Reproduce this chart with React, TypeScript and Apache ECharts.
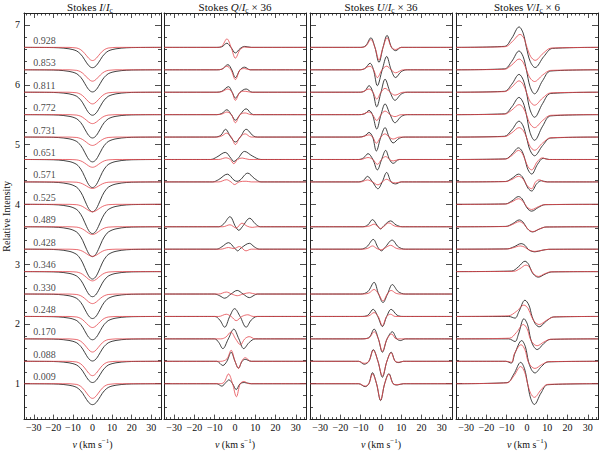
import React, { useEffect, useRef } from 'react';
import * as echarts from 'echarts';

type Pts = number[][] | null;

// phases, bottom (index 0) to top
const phases = ['0.009', '0.088', '0.170', '0.248', '0.330', '0.346', '0.428', '0.489', '0.525', '0.571', '0.651', '0.731', '0.772', '0.811', '0.853', '0.928'];
const baselines = [1.0, 1.375, 1.75, 2.125, 2.5, 2.875, 3.25, 3.625, 4.0, 4.375, 4.75, 5.125, 5.5, 5.875, 6.25, 6.625];

// Stokes I: line depth per phase and normalised profile shape [v, fraction of depth]
const iDepthBlack = [0.35, 0.355, 0.37, 0.39, 0.41, 0.42, 0.5, 0.5, 0.49, 0.5, 0.47, 0.415, 0.39, 0.385, 0.37, 0.34];
const iDepthRed = [0.245, 0.24, 0.22, 0.185, 0.16, 0.155, 0.12, 0.13, 0.125, 0.11, 0.13, 0.14, 0.15, 0.195, 0.19, 0.22];
const iShapeBlack = [[-20, 0.01], [-15, 0.035], [-12, 0.07], [-10, 0.11], [-8, 0.18], [-7, 0.25], [-6, 0.34], [-5, 0.46], [-4, 0.61], [-3, 0.76], [-2, 0.89], [-1, 0.97], [0, 1], [1, 0.97], [2, 0.89], [3, 0.76], [4, 0.61], [5, 0.46], [6, 0.34], [7, 0.25], [8, 0.18], [10, 0.11], [12, 0.07], [15, 0.035], [20, 0.01]];
const iShapeRed = [[-12, 0], [-10, 0.02], [-8, 0.05], [-7, 0.1], [-6, 0.18], [-5, 0.3], [-4, 0.46], [-3, 0.64], [-2, 0.82], [-1, 0.95], [0, 1], [1, 0.95], [2, 0.82], [3, 0.64], [4, 0.46], [5, 0.3], [6, 0.18], [7, 0.1], [8, 0.05], [10, 0.02], [12, 0]];

// Stokes Q/Ic x 36 : [v, offset from baseline]
const qBlack: Pts[] = [
  [[-9, 0], [-6.5, -0.04], [-4.5, 0.02], [-3, 0.065], [-1.2, 0], [0.6, -0.098], [2.5, 0], [4.6, 0.02], [8, 0]],
  [[-9, 0], [-6, -0.07], [-4, 0], [-1.9, 0.15], [0, 0], [1.7, -0.114], [3.5, 0], [5, 0.033], [8, 0]],
  [[-10, 0], [-8, -0.06], [-6, -0.163], [-3.3, 0], [-0.6, 0.163], [1.9, 0], [4.3, -0.163], [7, -0.06], [10, 0]],
  [[-10, 0], [-7.5, -0.06], [-5.1, -0.18], [-2.6, 0], [-0.2, 0.13], [2.5, 0], [5.5, -0.18], [8, -0.06], [11, 0]],
  [[-10, 0], [-7.5, -0.03], [-5.1, -0.07], [-2, 0], [1.1, 0.06], [4, 0], [7.1, -0.06], [9.5, -0.02], [11, 0]],
  null,
  [[-9, 0], [-6.5, 0.04], [-3.2, 0.109], [0, 0.01], [1.3, -0.028], [3, 0.02], [7.1, 0.098], [9.5, 0.04], [12, 0]],
  [[-8, 0], [-5.5, 0.05], [-2.5, 0.168], [0.3, 0], [1.9, -0.06], [3.6, 0], [7.3, 0.142], [10, 0.05], [12.5, 0]],
  null,
  [[-11, 0], [-8, 0.04], [-3.8, 0.13], [-0.5, 0.03], [1, 0.01], [2.5, 0.03], [6.3, 0.147], [9.5, 0.06], [12.8, 0]],
  [[-12, 0], [-9, 0.04], [-4.8, 0.119], [-2, 0.02], [-0.6, -0.033], [1.5, 0.02], [4.7, 0.135], [8.5, 0.06], [12.8, 0]],
  [[-10, 0], [-7, 0.03], [-4.7, 0.13], [-2.1, 0], [0.2, -0.082], [2.6, 0], [5.5, 0.13], [9, 0.02], [11, 0]],
  [[-9, 0], [-6.5, 0.02], [-4, 0.082], [-1.8, 0], [0.2, -0.093], [2.5, 0], [5.5, 0.098], [9, 0]],
  [[-9, 0], [-6.5, 0.015], [-3.2, 0.093], [-1.4, 0], [0.2, -0.098], [2.5, 0], [5.5, 0.054], [8.5, 0]],
  [[-9, 0], [-6.5, 0.01], [-3.5, 0.086], [-1.6, 0], [0.2, -0.13], [2.5, 0], [4.7, 0.044], [7.5, 0]],
  [[-9, 0], [-6.5, 0.01], [-4, 0.07], [-2, 0], [0.2, -0.093], [2.5, -0.02], [4.7, 0.016], [8, 0]],
];
const qRed: Pts[] = [
  [[-8, 0], [-5.5, 0.02], [-3.2, 0.163], [-1.2, 0], [0.7, -0.217], [2.6, 0], [4.4, 0.037], [7, 0]],
  [[-7, 0], [-4, 0.04], [-1.9, 0.184], [0, 0], [1.7, -0.12], [3.3, 0], [5, 0.06], [8, 0]],
  [[-7, 0], [-4.5, 0.03], [-2, 0.114], [0.3, 0], [2.7, -0.098], [4.8, 0], [7, 0.037], [10, 0]],
  [[-8, 0], [-4.3, 0.037], [-1.9, 0], [0.6, -0.07], [3.4, 0], [6.3, 0.028], [9, 0]],
  [[-8, 0], [-4.3, 0.033], [-1.6, 0], [1.1, -0.028], [4, 0], [7.1, 0.021], [10, 0]],
  null,
  [[-7, 0], [-3.2, 0.028], [-0.6, 0.01], [2.2, 0.044], [5.4, -0.028], [8, 0]],
  [[-6, 0], [-2.5, 0.033], [0.6, -0.021], [3.4, 0.06], [6, 0.01], [8.5, -0.01], [11, 0]],
  null,
  [[-8, 0], [-4.2, 0.037], [-2, 0], [-0.2, -0.044], [2, 0], [5.5, 0.011], [8, 0]],
  [[-8, 0], [-4.5, 0.028], [-2.3, 0], [-0.6, -0.07], [1.3, 0], [3.5, 0.025], [7, 0]],
  [[-9, 0], [-6.5, 0.02], [-4.2, 0.065], [-1.8, 0], [0.2, -0.125], [2.5, 0], [5, 0.054], [8, 0]],
  [[-9, 0], [-6.5, 0.01], [-4, 0.044], [-1.8, 0], [0.2, -0.135], [2.5, 0], [5, 0.028], [8, 0]],
  [[-9, 0], [-6.5, 0.01], [-3.5, 0.054], [-1.5, 0], [0.2, -0.135], [2.5, 0], [5, 0.016], [8, 0]],
  [[-9, 0], [-6.5, 0.01], [-4, 0.06], [-2, 0], [0.2, -0.163], [2.5, 0], [4.7, 0.02], [7.5, 0]],
  [[-9, 0], [-6.5, 0.02], [-4, 0.142], [-1.9, 0], [0.2, -0.18], [2.5, -0.04], [4.7, 0.005], [8, 0]],
];

// Stokes U/Ic x 36
const uBlack: Pts[] = [
  [[-11, 0], [-7.8, -0.049], [-6, 0], [-4.2, 0.184], [-2.2, 0], [-0.2, -0.282], [1.8, 0], [3.9, 0.168], [6, 0], [8, -0.021], [11, 0]],
  [[-11, 0], [-8.3, -0.049], [-6, 0], [-3.8, 0.195], [-1.5, 0], [0.7, -0.266], [2.9, 0], [5, 0.152], [7, 0], [8.8, -0.021], [11, 0]],
  [[-10, 0], [-6, 0.02], [-3.4, 0.163], [-1.3, 0], [0.7, -0.223], [3, 0], [5.6, 0.119], [7.8, 0], [9.6, -0.028], [12, 0]],
  [[-10, 0], [-6.5, 0.02], [-3.9, 0.119], [-1.6, 0], [0.7, -0.168], [2.8, 0], [5, 0.119], [8, 0.02], [11, 0]],
  [[-10, 0], [-6.5, 0.04], [-3.4, 0.195], [-1.2, 0], [1, -0.142], [3.2, 0], [5.6, 0.158], [8.5, 0.04], [12, 0]],
  null,
  [[-10, 0], [-7, 0.04], [-3.8, 0.163], [-1.5, 0.03], [0.2, -0.028], [2, 0.03], [5.5, 0.152], [8.5, 0.04], [12, 0]],
  [[-9, 0], [-6.5, 0.03], [-4.2, 0.119], [-1.8, 0.02], [-0.2, -0.037], [1.5, 0.02], [4.7, 0.098], [7.5, 0.03], [10.5, 0]],
  null,
  [[-11, 0], [-8.5, 0.03], [-6.7, 0.093], [-4.2, 0], [-1.5, -0.114], [0.6, 0], [2.8, 0.158], [5, 0], [7.2, -0.033], [10, 0]],
  [[-11, 0], [-8.5, 0.03], [-6.4, 0.098], [-4, 0], [-1.8, -0.174], [0.3, 0], [2.3, 0.152], [4.2, 0], [6, -0.065], [9, 0]],
  [[-11, 0], [-8, 0.02], [-5.9, 0.077], [-4.1, 0], [-2.3, -0.233], [-0.1, 0], [2, 0.158], [4, 0], [6, -0.098], [9, -0.02], [12, 0]],
  [[-11, 0], [-8, 0.015], [-5.9, 0.07], [-4.2, 0], [-2.1, -0.24], [0, 0], [2, 0.179], [4.5, 0], [6.9, -0.135], [10, -0.03], [13, 0]],
  [[-11, 0], [-8, 0.02], [-5.9, 0.11], [-4, 0], [-2.1, -0.244], [0, 0], [2, 0.217], [4.5, 0], [6.9, -0.135], [10, -0.03], [13, 0]],
  [[-11, 0], [-8, 0.02], [-5.4, 0.11], [-3.7, 0], [-1.8, -0.265], [0.6, 0], [2.8, 0.223], [5, 0], [7.2, -0.13], [10, -0.03], [13, 0]],
  [[-10, 0], [-7.5, 0.03], [-5, 0.16], [-3, 0], [-1, -0.25], [1, 0], [3, 0.2], [5.2, 0], [7.2, -0.055], [10, 0]],
];
const uRed: Pts[] = [
  [[-11, 0], [-7.8, -0.04], [-6, 0], [-4.2, 0.163], [-2.2, 0], [-0.2, -0.272], [1.8, 0], [3.9, 0.158], [6, 0], [8, -0.016], [11, 0]],
  [[-11, 0], [-8.3, -0.033], [-6, 0], [-3.8, 0.184], [-1.5, 0], [0.7, -0.244], [2.9, 0], [5, 0.142], [7, 0], [9, -0.015], [11, 0]],
  [[-10, 0], [-6, 0.015], [-3.4, 0.119], [-1.3, 0], [0.7, -0.207], [3, 0], [5.3, 0.081], [7.5, 0], [10, 0]],
  [[-9, 0], [-6, 0.01], [-3.4, 0.065], [-1.4, 0], [0.7, -0.152], [2.8, 0], [4.7, 0.037], [7, 0]],
  [[-9, 0], [-6, 0.015], [-3.4, 0.077], [-1.2, 0], [1, -0.114], [3.1, 0], [5, 0.06], [7.5, 0.01], [10, 0]],
  null,
  [[-9, 0], [-6.5, 0.015], [-4.2, 0.054], [-2, 0.01], [0, -0.011], [2, 0.02], [4.7, 0.065], [7.5, 0.015], [10, 0]],
  [[-8, 0], [-5.5, 0.015], [-3.4, 0.044], [-1.5, 0], [-0.2, -0.028], [1.2, 0], [3.9, 0.065], [6.5, 0.015], [9, 0]],
  null,
  [[-10, 0], [-6.7, 0.033], [-4.2, 0], [-1.5, -0.049], [0.6, 0], [2.8, 0.044], [5, 0], [7.2, -0.016], [10, 0]],
  [[-10, 0], [-6.4, 0.033], [-4, 0], [-1.8, -0.081], [0.3, 0], [2.3, 0.049], [4.2, 0], [6, -0.024], [9, 0]],
  [[-10, 0], [-5.9, 0.037], [-4.1, 0], [-2.3, -0.103], [-0.1, 0], [2, 0.054], [4, 0], [6, -0.033], [9, 0]],
  [[-10, 0], [-5.9, 0.044], [-4.2, 0], [-2.1, -0.098], [0, 0], [2, 0.06], [4.5, 0], [6.9, -0.033], [10, 0]],
  [[-10, 0], [-5.9, 0.054], [-4, 0], [-2.1, -0.114], [0, 0], [2, 0.065], [4.5, 0], [6.9, -0.049], [11, 0]],
  [[-10, 0], [-5.4, 0.06], [-3.7, 0], [-1.8, -0.13], [0.5, 0], [2.8, 0.06], [5, 0], [7.2, -0.05], [11, 0]],
  [[-10, 0], [-7.5, 0.02], [-5, 0.13], [-3, 0], [-1, -0.21], [1, 0], [3, 0.16], [5.2, 0], [7.2, -0.035], [10, 0]],
];

// Stokes V/Ic x 6
const vBlack: Pts[] = [
  [[-9.9, 0.018], [-6.5, 0.161], [-3.1, 0.358], [-1.23, 0.25], [0.3, 0], [1.79, -0.243], [3.6, -0.347], [6.9, -0.156], [10.2, -0.017]],
  [[-10.5, 0], [-7.8, -0.03], [-5.9, 0.14], [-2.6, 0.347], [-0.8, 0.243], [0.7, 0], [2.14, -0.137], [3.9, -0.195], [7.1, -0.088], [10.3, -0.01]],
  [[-9, 0], [-5.9, -0.044], [-4.2, 0.08], [-1.5, 0.337], [0.3, 0.236], [1.8, 0], [3.24, -0.125], [5, -0.179], [8.2, -0.08], [11.4, -0.009]],
  [[-9, 0], [-5.9, -0.028], [-4, 0.08], [-1, 0.272], [0.93, 0.19], [2.5, 0], [4.08, -0.122], [6, -0.174], [9.5, -0.078], [13, -0.009]],
  null,
  [[-7.6, 0.009], [-4.3, 0.078], [-1, 0.174], [0.8, 0.122], [2.3, 0], [3.8, -0.065], [5.6, -0.093], [8.9, -0.042], [12.2, -0.005]],
  [[-9.7, 0.005], [-6.3, 0.042], [-2.9, 0.093], [-1, 0.065], [0.5, 0], [2, -0.031], [3.9, -0.044], [7.3, -0.02], [10.7, -0.002]],
  [[-10.4, 0.006], [-7.1, 0.051], [-3.8, 0.114], [-2, 0.08], [-0.5, 0], [1, -0.06], [2.8, -0.086], [6.1, -0.039], [9.4, -0.004]],
  [[-10.6, 0.007], [-7.4, 0.059], [-4.2, 0.13], [-2.4, 0.091], [-1, 0], [0.5, -0.08], [2.3, -0.114], [5.6, -0.051], [8.9, -0.006]],
  [[-10.6, 0.007], [-7.4, 0.059], [-4.2, 0.13], [-2.4, 0.091], [-1, 0], [0.5, -0.106], [2.3, -0.152], [4.8, -0.03], [7, 0.02], [10, 0]],
  [[-10.6, 0.01], [-7.4, 0.088], [-4.2, 0.195], [-2.4, 0.137], [-1, 0], [0.5, -0.171], [2.3, -0.244], [5.2, -0.08], [8, 0.02], [11, 0]],
  [[-11.1, 0.013], [-7.5, 0.12], [-3.9, 0.266], [-1.9, 0.186], [-0.3, 0], [1.5, -0.219], [3.7, -0.313], [7.7, -0.141], [11.7, -0.016]],
  [[-11.1, 0.014], [-7.5, 0.13], [-3.9, 0.288], [-1.9, 0.202], [-0.3, 0], [1.5, -0.3], [3.7, -0.429], [7.7, -0.193], [11.7, -0.021]],
  [[-11.1, 0.015], [-7.5, 0.134], [-3.9, 0.298], [-1.9, 0.209], [-0.3, 0], [1.5, -0.293], [3.7, -0.419], [7.7, -0.189], [11.7, -0.021]],
  [[-11.1, 0.016], [-7.5, 0.142], [-3.9, 0.315], [-1.9, 0.22], [-0.3, 0], [1.5, -0.281], [3.7, -0.402], [7.7, -0.181], [11.7, -0.02]],
  [[-11.1, 0.017], [-7.5, 0.154], [-3.9, 0.342], [-1.9, 0.239], [-0.3, 0], [1.6, -0.236], [4, -0.337], [8.3, -0.152], [12.6, -0.017]],
];
const vRed: Pts[] = [
  [[-9.9, 0.014], [-6.5, 0.13], [-3.1, 0.288], [-1.23, 0.2], [0.3, 0], [1.79, -0.16], [3.6, -0.228], [6.9, -0.103], [10.2, -0.011]],
  [[-10.5, 0], [-7.5, -0.015], [-6.3, 0.12], [-2.9, 0.277], [-1.03, 0.194], [0.5, 0], [2.03, -0.083], [3.9, -0.119], [7.3, -0.054], [10.7, -0.006]],
  [[-8.6, 0.012], [-5.2, 0.108], [-1.8, 0.24], [0.07, 0.168], [1.6, 0], [3.13, -0.08], [5, -0.114], [8.4, -0.051], [11.8, -0.006]],
  [[-9.3, 0.01], [-5.2, 0.085], [-1.5, 0.19], [0.53, 0.133], [2.2, 0], [3.9, -0.095], [6, -0.135], [9.8, -0.061], [13.6, -0.007]],
  null,
  [[-6.5, 0.005], [-3.5, 0.049], [-0.5, 0.109], [1.15, 0.076], [2.5, 0], [3.9, -0.057], [5.6, -0.081], [8.7, -0.036], [11.8, -0.004]],
  [[-10, 0.003], [-6.8, 0.024], [-3.4, 0.054], [-1.4, 0.038], [0.3, 0], [1.9, -0.026], [3.9, -0.037], [7.5, -0.017], [11, -0.002]],
  [[-10.4, 0.004], [-7.1, 0.039], [-3.8, 0.086], [-2, 0.06], [-0.5, 0], [1, -0.057], [2.8, -0.081], [6.1, -0.036], [9.4, -0.004]],
  [[-10.6, 0.005], [-7.4, 0.042], [-4.2, 0.093], [-2.4, 0.065], [-1, 0], [0.5, -0.06], [2.3, -0.086], [5.6, -0.039], [8.9, -0.004]],
  [[-10.6, 0.005], [-7.4, 0.042], [-4.2, 0.093], [-2.4, 0.065], [-1, 0], [0.5, -0.08], [2.3, -0.114], [4.2, 0], [6, 0.035], [9, 0]],
  [[-10.6, 0.008], [-7.4, 0.068], [-4.2, 0.152], [-2.4, 0.106], [-1, 0], [0.5, -0.122], [2.3, -0.174], [5, -0.04], [7.5, 0.027], [10.5, 0]],
  [[-11.1, 0.008], [-7.5, 0.071], [-3.9, 0.158], [-1.9, 0.111], [-0.3, 0], [1.5, -0.154], [3.7, -0.22], [7.7, -0.099], [11.7, -0.011]],
  [[-11.1, 0.008], [-7.5, 0.076], [-3.9, 0.168], [-1.9, 0.118], [-0.3, 0], [1.5, -0.152], [3.7, -0.217], [7.7, -0.098], [11.7, -0.011]],
  [[-11.1, 0.01], [-7.5, 0.086], [-3.9, 0.19], [-1.9, 0.133], [-0.3, 0], [1.5, -0.152], [3.7, -0.217], [7.7, -0.098], [11.7, -0.011]],
  [[-11.1, 0.009], [-7.5, 0.081], [-3.9, 0.18], [-1.9, 0.126], [-0.3, 0], [1.5, -0.137], [3.7, -0.196], [7.7, -0.088], [11.7, -0.01]],
  [[-10.8, 0.011], [-7.2, 0.098], [-3.4, 0.217], [-1.5, 0.152], [0, 0], [1.8, -0.152], [4, -0.217], [8, -0.098], [12, -0.011]],
];

// axes
const xRange = [-35, 35];
const yRange = [0.4, 7.2];
const xTickLabels = [-30, -20, -10, 0, 10, 20, 30];
const yTickLabels = [1, 2, 3, 4, 5, 6, 7];
const labelV = -30;

const FONT = 'Liberation Serif';
const BLACK = '#1e1e1e';
const RED = '#e4464c';
const AXIS = '#222';

const panelLefts = [19, 164, 310, 456];
const panelWidth = 142;
const panelTop = 13;
const panelHeight = 419;

const titleTexts = [
  '{n|Stokes }{i|I}{n|/}{i|I}{s|c}',
  '{n|Stokes }{i|Q}{n|/}{i|I}{s|c}{n| × 36}',
  '{n|Stokes }{i|U}{n|/}{i|I}{s|c}{n| × 36}',
  '{n|Stokes }{i|V}{n|/}{i|I}{s|c}{n| × 6}',
];

export default function App() {
  const ref = useRef<HTMLDivElement>(null);
  useEffect(() => {
    if (!ref.current) return;
    const chart = echarts.init(ref.current, null, { renderer: 'svg' });

    const xMinor: number[] = [];
    for (let v = -34; v <= 34; v += 2) if (v % 10 !== 0) xMinor.push(v);
    const yMinor: number[] = [];
    for (let k = 3; k <= 36; k++) if (k % 5 !== 0) yMinor.push(Math.round(k * 20) / 100);

    const fmtX = (v: number) => String(v).replace('-', '\u2212');
    const lineStyle = { color: AXIS, width: 1 };
    const tickStyle = { color: AXIS, width: 0.8 };

    const grids: any[] = [];
    const xAxes: any[] = [];
    const yAxes: any[] = [];
    const richBase = {
      n: { fontFamily: FONT, fontSize: 10, fontWeight: 'normal', color: '#111', lineHeight: 13 },
      i: { fontFamily: FONT, fontSize: 10, fontWeight: 'normal', fontStyle: 'italic', color: '#111', lineHeight: 13 },
      s: { fontFamily: FONT, fontSize: 7, fontWeight: 'normal', color: '#111', lineHeight: 13, verticalAlign: 'top' },
    };

    for (let g = 0; g < 4; g++) {
      grids.push({ left: panelLefts[g], top: panelTop, width: panelWidth, height: panelHeight });
      const baseX = { gridIndex: g, type: 'value', min: xRange[0], max: xRange[1], splitLine: { show: false } };
      xAxes.push({
        ...baseX, position: 'bottom',
        axisLine: { show: true, onZero: false, lineStyle },
        axisTick: { show: true, inside: true, length: 5, customValues: xTickLabels, lineStyle: tickStyle },
        axisLabel: { show: true, customValues: xTickLabels, formatter: fmtX, fontFamily: FONT, fontSize: 10, color: '#111', margin: 3 },
        name: '{i|v}{n| (km s}{s|\u22121}{n|)}', nameLocation: 'middle', nameGap: 16,
        nameTextStyle: { fontWeight: 'normal', rich: richBase },
      });
      xAxes.push({
        ...baseX, position: 'bottom',
        axisLine: { show: false, onZero: false },
        axisTick: { show: true, inside: true, length: 2.5, customValues: xMinor, lineStyle: tickStyle },
        axisLabel: { show: false },
      });
      xAxes.push({
        ...baseX, position: 'top',
        axisLine: { show: true, onZero: false, lineStyle },
        axisTick: { show: true, inside: true, length: 5, customValues: xTickLabels, lineStyle: tickStyle },
        axisLabel: { show: false },
      });
      xAxes.push({
        ...baseX, position: 'top',
        axisLine: { show: false, onZero: false },
        axisTick: { show: true, inside: true, length: 2.5, customValues: xMinor, lineStyle: tickStyle },
        axisLabel: { show: false },
      });

      const baseY = { gridIndex: g, type: 'value', min: yRange[0], max: yRange[1], splitLine: { show: false } };
      yAxes.push({
        ...baseY, position: 'left',
        axisLine: { show: true, onZero: false, lineStyle },
        axisTick: { show: true, inside: true, length: 6, customValues: yTickLabels, lineStyle: tickStyle },
        axisLabel: { show: g === 0, customValues: yTickLabels, fontFamily: FONT, fontSize: 10, color: '#111', margin: 4 },
        ...(g === 0
          ? { name: 'Relative Intensity', nameLocation: 'middle', nameGap: 13, nameRotate: 90, nameTextStyle: { fontFamily: FONT, fontSize: 10, fontWeight: 'normal', color: '#111' } }
          : {}),
      });
      yAxes.push({
        ...baseY, position: 'left',
        axisLine: { show: false, onZero: false },
        axisTick: { show: true, inside: true, length: 3, customValues: yMinor, lineStyle: tickStyle },
        axisLabel: { show: false },
      });
      yAxes.push({
        ...baseY, position: 'right',
        axisLine: { show: true, onZero: false, lineStyle },
        axisTick: { show: true, inside: true, length: 6, customValues: yTickLabels, lineStyle: tickStyle },
        axisLabel: { show: false },
      });
      yAxes.push({
        ...baseY, position: 'right',
        axisLine: { show: false, onZero: false },
        axisTick: { show: true, inside: true, length: 3, customValues: yMinor, lineStyle: tickStyle },
        axisLabel: { show: false },
      });
    }

    const mk = (g: number, data: number[][], color: string, width: number, z: number) => ({
      type: 'line', xAxisIndex: 4 * g, yAxisIndex: 4 * g, data,
      symbol: 'none', showSymbol: false, smooth: 0.35, silent: true, z,
      lineStyle: { color, width },
    });

    const blackSeries: any[] = [];
    const redSeries: any[] = [];
    baselines.forEach((b, i) => {
      // Stokes I
      blackSeries.push(mk(0, [[xRange[0], b], ...iShapeBlack.map(([v, f]) => [v, b - iDepthBlack[i] * f]), [xRange[1], b]], BLACK, 0.85, 2));
      redSeries.push(mk(0, [[xRange[0], b], ...iShapeRed.map(([v, f]) => [v, b - iDepthRed[i] * f]), [xRange[1], b]], RED, 0.8, 3));
      const sets: [Pts[], Pts[]][] = [[qBlack, qRed], [uBlack, uRed], [vBlack, vRed]];
      sets.forEach(([bk, rd], k) => {
        const g = k + 1;
        const pb = bk[i];
        const pr = rd[i];
        if (pb) blackSeries.push(mk(g, [[xRange[0], b], ...pb.map(([v, a]) => [v, b + a]), [xRange[1], b]], BLACK, 0.85, 2));
        if (pr) redSeries.push(mk(g, [[xRange[0], b], ...pr.map(([v, a]) => [v, b + a]), [xRange[1], b]], RED, 0.8, 3));
      });
    });

    const labelSeries = {
      type: 'scatter', xAxisIndex: 0, yAxisIndex: 0, silent: true, z: 5,
      data: baselines.map((b) => [labelV, b]),
      symbolSize: 1, itemStyle: { color: 'rgba(0,0,0,0)' },
      label: {
        show: true, position: [0, -12],
        formatter: (p: any) => phases[p.dataIndex],
        fontFamily: FONT, fontSize: 10, fontWeight: 'normal', color: '#111', lineHeight: 11,
      },
    };

    const titleRich = {
      n: { fontFamily: FONT, fontSize: 11, fontWeight: 'normal', color: '#111', lineHeight: 14 },
      i: { fontFamily: FONT, fontSize: 11, fontWeight: 'normal', fontStyle: 'italic', color: '#111', lineHeight: 14 },
      s: { fontFamily: FONT, fontSize: 7.5, fontWeight: 'normal', color: '#111', lineHeight: 14, verticalAlign: 'bottom' },
    };
    const titles = titleTexts.map((t, g) => ({
      text: t,
      left: panelLefts[g] + panelWidth / 2,
      top: 0,
      padding: 0,
      textAlign: 'center',
      textStyle: { fontFamily: FONT, fontSize: 11, fontWeight: 'normal', color: '#111', lineHeight: 14, rich: titleRich },
    }));

    chart.setOption({
      animation: false,
      backgroundColor: '#fff',
      title: titles,
      grid: grids,
      xAxis: xAxes,
      yAxis: yAxes,
      series: [...blackSeries, ...redSeries, labelSeries],
    });
    return () => chart.dispose();
  }, []);
  return <div ref={ref} style={{ position: 'absolute', left: 0, top: 0, width: 600, height: 454 }} />;
}
